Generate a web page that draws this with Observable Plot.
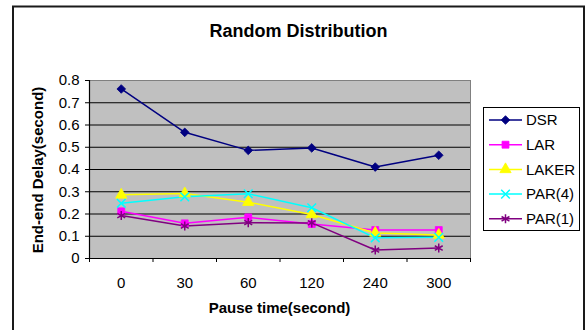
<!DOCTYPE html>
<html><head><meta charset="utf-8">
<script src="https://cdn.jsdelivr.net/npm/d3@7"></script>
<script src="https://cdn.jsdelivr.net/npm/@observablehq/plot@0.6"></script>
<style>body{margin:0;background:#fff} svg{display:block}</style>
</head><body><div id="chart"></div>
<script>
// ---- data ----
const categories = ["0", "30", "60", "120", "240", "300"];
const seriesNames = ["DSR", "LAR", "LAKER", "PAR(4)", "PAR(1)"];
const dsr   = [0.762, 0.567, 0.486, 0.497, 0.411, 0.464];
const lar   = [0.212, 0.158, 0.185, 0.155, 0.128, 0.128];
const laker = [0.286, 0.292, 0.253, 0.198, 0.115, 0.106];
const par4  = [0.248, 0.277, 0.291, 0.228, 0.093, 0.095];
const par1  = [0.193, 0.146, 0.161, 0.160, 0.038, 0.047];
const yTicks = [0, 0.1, 0.2, 0.3, 0.4, 0.5, 0.6, 0.7, 0.8];
const chartTitle = "Random Distribution";
const xTitle = "Pause time(second)";
const yTitle = "End-end Delay(second)";

// ---- styling ----
const seriesValues = [dsr, lar, laker, par4, par1];
const seriesColors = ["#000080", "#FF00FF", "#FFFF00", "#00FFFF", "#800080"];
const seriesSymbols = ["diamond2", "square", "triangle", "times", "asterisk"];
const seriesFilled = [true, true, true, false, false];
const seriesR = [3.9, 3.9, 4.2, 4.0, 4.3];
const FONT = "'Liberation Sans', Arial, sans-serif";

const idx = categories.map((c, i) => i);
const bounds = d3.range(categories.length + 1).map(i => i - 0.5);
const fmtY = d => d === 0 ? "0" : d3.format(".1f")(d);

const marks = [
  Plot.frame({fill: "#C0C0C0", stroke: "#808080", strokeWidth: 1}),
  Plot.gridY({ticks: yTicks.filter(t => t > 0 && t < yTicks[yTicks.length - 1]), stroke: "#000", strokeOpacity: 1, strokeWidth: 1}),
  Plot.ruleX([bounds[0]], {stroke: "#000", strokeWidth: 1.2}),
  Plot.ruleY([0], {stroke: "#000", strokeWidth: 1.2}),
  Plot.axisY({ticks: yTicks, tickSize: 4, tickPadding: 6, tickFormat: fmtY, label: null, fontSize: 15, stroke: "#000"}),
  Plot.axisX({ticks: bounds, tickSize: 4, tickFormat: () => "", label: null, stroke: "#000"}),
  Plot.axisX({ticks: idx, tickSize: 0, tickPadding: 19, tickFormat: i => categories[i], label: null, fontSize: 15})
];

seriesNames.forEach((name, k) => {
  const data = categories.map((c, i) => ({i, value: seriesValues[k][i]}));
  marks.push(Plot.line(data, {x: "i", y: "value", stroke: seriesColors[k], strokeWidth: 1.5}));
});
seriesNames.forEach((name, k) => {
  const data = categories.map((c, i) => ({i, value: seriesValues[k][i]}));
  marks.push(Plot.dot(data, {
    x: "i", y: "value", symbol: () => seriesSymbols[k], r: seriesR[k],
    fill: seriesFilled[k] ? seriesColors[k] : "none",
    stroke: seriesColors[k], strokeWidth: seriesFilled[k] ? 0.8 : 1.5
  }));
});

const svg = Plot.plot({
  width: 585, height: 330,
  marginLeft: 89, marginRight: 115, marginTop: 80, marginBottom: 72,
  x: {domain: [bounds[0], bounds[bounds.length - 1]]},
  y: {domain: [yTicks[0], yTicks[yTicks.length - 1]]},
  symbol: {type: "identity"},
  style: {fontFamily: FONT, fontSize: "15px", color: "#000", background: "#fff", overflow: "visible"},
  marks
});
document.getElementById("chart").appendChild(svg);

// ---- chrome: outer frame, titles, legend ----
const s = d3.select(svg);
s.append("rect").attr("x", 13).attr("y", 6.5).attr("width", 571).attr("height", 400)
  .attr("fill", "none").attr("stroke", "#1a1a1a").attr("stroke-width", 2);
s.append("text").attr("x", 298.5).attr("y", 37).attr("text-anchor", "middle")
  .attr("font-weight", "bold").attr("font-size", 18).attr("font-family", FONT).attr("fill", "#000").text(chartTitle);
s.append("text").attr("x", 279.5).attr("y", 313).attr("text-anchor", "middle")
  .attr("font-weight", "bold").attr("font-size", 15).attr("font-family", FONT).attr("fill", "#000").text(xTitle);
s.append("text").attr("transform", "translate(43,170) rotate(-90)").attr("text-anchor", "middle")
  .attr("font-weight", "bold").attr("font-size", 15).attr("font-family", FONT).attr("fill", "#000").text(yTitle);

const lg = s.append("g").attr("font-family", FONT).attr("font-size", 15).attr("text-anchor", "start");
lg.append("rect").attr("x", 483.5).attr("y", 107.5).attr("width", 96).attr("height", 123)
  .attr("fill", "#fff").attr("stroke", "#000").attr("stroke-width", 1);
const d3sym = {diamond2: d3.symbolDiamond2, square: d3.symbolSquare, triangle: d3.symbolTriangle, times: d3.symbolTimes, asterisk: d3.symbolAsterisk};
seriesNames.forEach((name, k) => {
  const cy = 120 + k * 24.7;
  lg.append("line").attr("x1", 489).attr("x2", 522).attr("y1", cy).attr("y2", cy)
    .attr("stroke", seriesColors[k]).attr("stroke-width", 1.5);
  lg.append("path").attr("transform", `translate(505.5,${cy})`)
    .attr("d", d3.symbol(d3sym[seriesSymbols[k]], Math.PI * seriesR[k] * seriesR[k])())
    .attr("fill", seriesFilled[k] ? seriesColors[k] : "none")
    .attr("stroke", seriesColors[k]).attr("stroke-width", seriesFilled[k] ? 0.8 : 1.5);
  lg.append("text").attr("x", 526).attr("y", cy + 5.3).attr("text-anchor", "start").attr("fill", "#000").text(name);
});
</script></body></html>
